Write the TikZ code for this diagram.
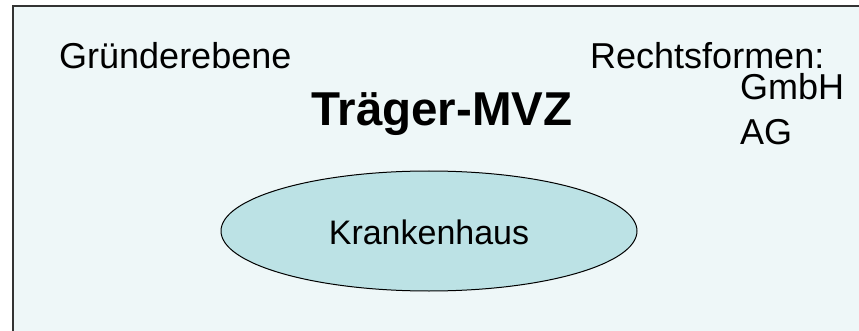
\documentclass[tikz,border=0pt]{standalone}
\usepackage{fontspec}
\setmainfont{Liberation Sans}
\usetikzlibrary{shapes.geometric}
\definecolor{bgfill}{HTML}{EEF7F8}
\definecolor{ellfill}{HTML}{BCE2E5}
\begin{document}
\begin{tikzpicture}[x=1pt,y=-1pt,
  lbl/.style={inner sep=0pt,anchor=base west,font=\fontsize{36}{40}\selectfont},
  ell/.style={ellipse,draw=black,line width=1pt,fill=ellfill,minimum width=416pt,minimum height=120pt,inner sep=0pt}]
\useasboundingbox (0,0) rectangle (859,331);
\clip (0,0) rectangle (859,331);
\fill[white] (0,0) rectangle (859,331);
\draw[fill=bgfill,draw=black!80,line width=1.5pt] (13,6) rectangle (880,350);
\node[lbl] (gruender) at (59,69) {Gründerebene};
\node[lbl,font=\fontsize{47.5}{52}\selectfont\bfseries] (traeger) at (311,126) {Träger-MVZ};
\node[lbl] (rechts) at (590,69) {Rechtsformen:};
\node[lbl] (gmbh) at (740,100) {GmbH};
\node[lbl] (ag) at (740,145) {AG};
\node[ell] (kh) at (429,231) {};
\node[inner sep=0pt,anchor=base,font=\fontsize{34}{38}\selectfont] (khtext) at (429,244) {Krankenhaus};
\end{tikzpicture}
\end{document}
